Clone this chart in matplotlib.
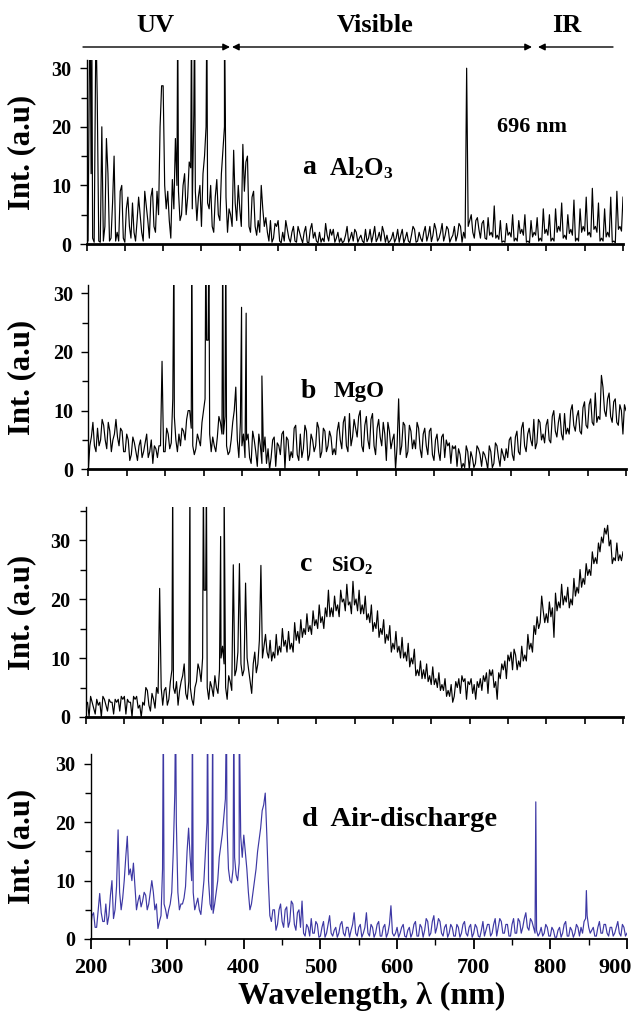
import numpy as np
import matplotlib
matplotlib.use("Agg")
import matplotlib.pyplot as plt
from matplotlib.ticker import MultipleLocator

plt.rcParams["font.family"] = ["Liberation Serif", "DejaVu Serif"]
plt.rcParams["font.weight"] = "bold"
plt.rcParams["mathtext.default"] = "regular"

# sampling grids of the spectra (nm): even points 200,204,... and odd points 202,206,...
wl = np.arange(200, 904, 4)
wl_mid = np.arange(202, 900, 4)

# Al2O3 spectrum
al2o3_int = [
    11, 34, 1, 33, 0.5, 20, 3, 12, 1, 15,
    2, 9, 1, 6, 3, 7, 0.5, 8, 2, 9,
    4, 8, 3, 9, 20, 27, 6, 4, 11, 18,
    9, 5, 12, 8, 13, 22, 4, 10, 12, 20,
    6, 3, 8, 5, 12, 20, 2, 5, 16, 4,
    6, 17, 14, 3, 8, 3, 4, 10, 3, 2,
    4, 1, 3, 0.5, 2, 4, 1, 2, 0.5, 3,
    1, 2, 0.3, 2.5, 1, 0.5, 2, 1, 3.5, 0.5,
    1.5, 0.3, 2, 1, 0.5, 3, 1, 0.5, 2, 1,
    0.5, 2.5, 1, 0.3, 3, 1, 0.5, 2, 1.5, 0.5,
    2, 1, 0.3, 2.5, 1, 0.5, 1.5, 2.5, 0.5, 1,
    2, 0.5, 3, 1.5, 2.5, 1, 3.5, 1.5, 2.5, 1,
    3, 1.5, 3, 2, 30, 4, 2, 4, 2.5, 3.5,
    1, 4.5, 2, 6.5, 1.5, 4, 0.5, 3.5, 2, 5,
    1, 4, 2.5, 5, 0.5, 4, 2, 4.5, 1, 6,
    2.5, 5, 1, 6, 3, 7, 1.5, 5, 2.5, 7.5,
    1, 6, 3, 8, 2, 9.5, 3, 7, 1, 6,
    2, 8, 0.5, 9, 3, 8,
]
al2o3_mid = [
    0.5, 12, 0.3, 25, 0.3, 0.5, 18, 0.5, 7, 0.5,
    0.5, 10, 0.3, 8, 1, 2, 4, 5, 0.5, 6.5,
    1, 9.5, 2, 5, 27, 10, 9, 1, 6, 10,
    4, 10, 5, 14, 6, 9, 8, 3, 15, 7,
    10, 2, 11, 4, 16, 8, 6, 3, 7, 10,
    3, 9, 15, 2, 9, 1.5, 2, 6, 4.5, 0.5,
    0.3, 3.5, 4, 0.2, 0.5, 2.5, 0.3, 3, 0.3, 2,
    0.2, 3, 0.2, 3.5, 2, 0.2, 0.3, 0.4, 1.5, 2.5,
    2.5, 1, 0.3, 0.2, 1.5, 0.3, 2, 2.5, 0.3, 1.5,
    0.2, 0.4, 2.5, 1.5, 0.4, 2, 3, 0.3, 0.2, 1,
    0.3, 2.5, 1.5, 0.2, 2, 0.2, 3, 0.3, 2, 0.4,
    3, 1.5, 0.4, 3.5, 0.5, 2, 0.5, 3, 0.3, 1.5,
    0.5, 3.5, 0.3, 1, 3, 5, 1, 4.5, 1, 4,
    0.8, 1.5, 1.2, 1, 0.8, 0.3, 0.3, 1.5, 1.2, 0.5,
    0.5, 1.8, 1.5, 0.3, 0.2, 1.2, 1.5, 0.5, 0.5, 1.8,
    1.5, 0.5, 0.5, 2, 2.2, 1, 0.8, 1.8, 1.5, 0.5,
    0.5, 2, 2.2, 1.5, 1.2, 2.5, 2, 0.5, 0.5, 1.2,
    1.2, 0.3, 0.2, 2.5, 2.2,
]
al2o3_line_wl = [205, 207, 213, 319, 337, 341, 357, 380]
al2o3_line_int = [35, 35, 33, 40, 40, 40, 40, 40]

# MgO spectrum
mgo_int = [
    0, 5.5, 4, 7, 5, 7.5, 3.5, 6.5, 5, 8.5,
    4, 6.5, 3, 5, 2.5, 4.5, 1.5, 5, 3, 6,
    3, 1, 3.5, 4, 18.4, 3, 6, 4.5, 9, 3,
    4, 6.5, 8.5, 10, 4, 3.5, 5, 8, 12, 22,
    3, 4, 5.5, 8, 6, 4, 3, 8, 14, 2,
    4, 2, 6, 1, 5, 0.5, 4, 3, 1, 0,
    5, 0.5, 4, 6, 0, 5, 3, 7, 2.5, 6,
    3.5, 6.5, 2.5, 5, 4, 7, 3, 6.5, 4, 5.5,
    3.5, 6.5, 5, 8, 4, 9.5, 5.5, 7, 9, 4,
    7.5, 5, 8.5, 4, 7, 5.5, 8, 1.5, 6.5, 5,
    0, 12, 4, 7.5, 3, 6.5, 5, 8, 3.5, 6,
    4, 6.5, 2.5, 5, 3, 5.5, 2, 4, 1, 3.5,
    0.5, 2.5, 1, 4, 0, 2, 1, 3.5, 0.5, 2.5,
    0, 3, 1, 4, 0.5, 2.5, 3.5, 5, 2.5, 5.5,
    3, 7, 4, 6, 5, 8.5, 4.5, 8, 6, 7.5,
    5, 9, 6.5, 8, 6, 9.5, 7, 10, 7.5, 9,
    6.5, 10.5, 7.5, 11, 8, 13, 9, 16, 10, 12,
    9, 11.5, 8, 11, 6, 10,
]
mgo_mid = [
    4, 8, 3, 4, 8.5, 5, 8, 3, 6, 5.5,
    7, 3, 6, 1.5, 5.5, 3, 4, 2, 4.5, 2,
    5, 4, 2, 4, 3, 7, 3.5, 12, 5, 6,
    7, 5, 10, 7, 2.5, 6, 4, 10, 22, 6,
    5.5, 3, 9, 6, 9, 2.5, 5, 10, 5, 8,
    6, 5, 2, 6.5, 3, 6, 1, 5.5, 3.5, 2,
    5.5, 4.5, 2.5, 6.5, 5.5, 1.5, 2, 7.5, 1.5, 2,
    7.5, 1.5, 6, 3, 8, 2, 7, 3, 6.5, 2.5,
    2.5, 8, 3.5, 9, 3, 4, 8.5, 5.5, 10, 3,
    9, 3.5, 9.5, 2.5, 8.5, 4, 6, 8, 3.5, 6,
    4, 2.5, 8, 2, 7.5, 3.5, 3.5, 7, 2, 7,
    2.5, 7, 1.5, 6, 1.5, 6, 5, 4.5, 4, 4,
    3.5, 0.2, 0.3, 3, 3, 0.3, 4, 2.5, 3, 1.5,
    4, 0.3, 4.5, 2, 3.5, 1.5, 2, 5.5, 1.5, 6.5,
    2.5, 8, 3, 7, 4, 3.5, 8.5, 5, 4.5, 8.5,
    4.5, 10, 5.5, 9.5, 5, 6, 6, 11, 6.5, 10,
    6, 11.5, 7, 12, 7.5, 8, 8.5, 14, 9, 13,
    8, 12, 7.5, 10, 11,
]
mgo_line_wl = [311.5, 334.7, 353, 357, 375, 379, 399.5, 405.5, 426]
mgo_line_int = [40, 40, 40, 40, 40, 40, 27.6, 26.6, 15.9]

# SiO2 spectrum
sio2_int = [
    2, 0, 2.5, 0.5, 2, 0, 3, 1, 2.5, 0.5,
    2.5, 1, 3, 0.5, 2.5, 0, 3, 1.5, 0, 2,
    4.5, 1, 3, 5, 21.8, 2, 5, 3, 8, 4,
    2, 6, 9, 3, 5, 2, 6, 8, 10, 21.5,
    3, 5, 7, 4, 10, 9, 3, 6, 25.8, 8,
    26, 7, 22.7, 8, 4, 11, 9, 25.7, 12, 11,
    13, 11, 14, 12, 15, 13, 14.5, 12.5, 16, 14.5,
    16.5, 15, 17.5, 15.5, 18, 16.5, 19, 17, 18.5, 21.5,
    18.5, 20.5, 19, 21.5, 20, 22.5, 19.5, 23, 20, 21.5,
    19, 20.5, 17.5, 19, 16, 18, 15, 16.5, 14, 15.5,
    12.5, 14.5, 12, 13.5, 11, 12.5, 10, 11.5, 8, 9.5,
    8, 9, 7, 8.5, 6.5, 7.5, 5.5, 6.5, 4.5, 5.5,
    3.5, 5, 4, 6, 3, 5.5, 4, 3, 5, 4.5,
    6, 4, 7, 5, 3, 6.5, 8, 6.5, 9.5, 8,
    10.5, 9.5, 12, 10.5, 14, 12.5, 15.5, 17, 16, 18,
    17.5, 19.5, 18.5, 21, 19.5, 22.5, 20.5, 22, 20, 23.5,
    22, 25, 23.5, 26, 25, 28, 27, 29.5, 30.5, 32,
    32.5, 30, 27, 29.5, 27.5, 28,
]
sio2_mid = [
    2.5, 3.5, 1.5, 3, 2.5, 3.5, 2, 3, 2.5, 3,
    3, 3.5, 3.5, 3, 2.5, 3.5, 3.5, 2, 2.5, 5,
    2, 4, 1.5, 4, 5, 4.5, 2, 6, 5, 6,
    4.5, 7, 4, 6, 3, 5, 9, 6, 21.5, 5,
    6, 3.5, 5, 8, 12, 5, 7, 4.5, 7, 11,
    9, 8, 10, 6, 9, 7.5, 13, 10, 14, 10,
    9.5, 10, 10.5, 11, 12, 11, 11.5, 11, 13, 12.5,
    13.5, 14, 14.5, 14, 15.5, 15, 16, 15, 17, 17,
    17, 18, 17, 19.5, 18, 19, 17.5, 19, 18, 17.5,
    17.5, 16.5, 16, 14.5, 15, 13.5, 14, 12.5, 13, 11,
    11.5, 11, 10, 10, 9.5, 8.5, 9, 7, 7, 6.5,
    6.5, 6, 5.5, 5.5, 5, 4.5, 4.5, 3.5, 3.5, 2.5,
    6, 6.5, 7, 6.5, 6, 6.5, 5.5, 6, 6.5, 7,
    7.5, 8, 8, 6, 7.5, 9, 9.5, 10.5, 11, 11.5,
    8, 8.5, 9.5, 9.5, 11.5, 11, 14, 15, 20.5, 16,
    16, 17, 13.5, 18, 18.5, 19, 19.5, 18.5, 19, 20.5,
    21, 22, 22.5, 24, 24, 26, 26, 28, 29.5, 31,
    29, 26, 26.5, 26.5, 26.5,
]
sio2_line_wl = [313, 335.5, 353, 357, 375.5, 380]
sio2_line_int = [40, 40, 40, 40, 30.6, 40]

# air discharge spectrum
air_int = [
    1.8, 4.5, 2, 7.8, 3, 6, 4, 10, 5, 18.7,
    5, 10, 17.6, 12, 13, 5, 7.5, 6.5, 7.5, 6,
    10, 5, 1.8, 4, 6, 3.5, 6, 15, 20, 5,
    6, 9, 19, 10, 5, 7, 4.2, 10, 20, 6,
    4.4, 8, 14, 18, 24, 12, 9.6, 14, 10, 17.6,
    17.8, 12, 5, 8, 12, 17, 22, 25, 10, 3,
    5, 2.5, 6, 2, 5.5, 3, 6, 1.5, 5, 6.5,
    0.5, 2, 3.5, 1, 2.5, 0.5, 3, 1, 4, 0.5,
    2, 1, 3, 0.5, 2, 1.5, 4.5, 0.5, 2.5, 1,
    4.5, 0.5, 2, 1, 3, 0.5, 2.5, 1, 5.7, 0.5,
    2, 1, 2.5, 0.3, 2, 1, 3, 0.5, 2, 1.5,
    3, 1, 4, 2, 3, 0.5, 2.5, 1, 2, 0.5,
    2, 1, 3, 0.5, 2.5, 1, 2, 0.3, 3, 1.5,
    2.5, 1, 3.5, 2, 3, 1, 2.5, 0.5, 3.5, 1,
    3, 2, 4.5, 1.5, 3, 1, 0.5, 2, 1, 2,
    0.5, 1.5, 0.3, 2, 1, 3, 0.5, 1.5, 1, 2,
    2, 3, 4, 1, 2, 0.5, 3, 1, 2.5, 0.5,
    2, 1, 3, 0.5, 2, 1,
]
air_mid = [
    4, 2, 5, 4.5, 3, 2.5, 7.5, 3.5, 9, 8,
    7, 14, 11, 10, 9, 6.5, 5.5, 8, 5, 8,
    8, 6, 3, 12, 5, 5, 8, 25, 8, 6,
    7, 15, 14, 8, 6, 5, 7, 15, 10, 5,
    6, 10, 16, 21, 20, 10, 12, 11, 13, 14,
    15, 8, 6, 10, 15, 19, 23, 18, 4, 5,
    1.5, 5, 3, 5, 2, 6.5, 2.5, 4.5, 2, 1,
    2.5, 0.5, 1, 3, 0.3, 2, 0.3, 2.5, 1, 1.5,
    0.3, 2.5, 1, 2, 0.3, 2.5, 1, 2, 0.3, 2,
    1, 2.5, 0.3, 2.5, 0.5, 2, 0.3, 2.5, 1, 1,
    0.3, 2, 0.5, 1.5, 0.3, 2.5, 0.5, 2.5, 0.3, 3.5,
    0.5, 3, 1, 3.5, 1, 2, 0.3, 2.5, 0.5, 2.5,
    0.3, 2.5, 1, 2, 0.3, 2.5, 0.5, 1.5, 0.5, 2.5,
    0.5, 2.5, 0.5, 3.5, 1, 2.5, 0.5, 2.5, 1, 3.5,
    1, 3.5, 2, 3.5, 2, 1.5, 1, 0.5, 2.5, 0.5,
    2, 0.3, 1.5, 0.3, 2.5, 0.5, 2, 0.3, 2.5, 0.5,
    1, 3.5, 2, 1.5, 0.5, 2, 1, 2.5, 1, 2,
    0.5, 2, 1, 2.5, 0.5,
]
air_line_wl = [295, 311, 333, 352.7, 359.5, 377.4, 387, 394, 781, 847]
air_line_int = [40, 40, 40, 40, 40, 40, 40, 40, 23.5, 8.3]

xtick_values = [200, 300, 400, 500, 600, 700, 800, 900]


def merge(base, mid, line_wl, line_int):
    assert len(base) == len(wl) and len(mid) == len(wl_mid)
    x = np.concatenate([wl, wl_mid, line_wl])
    y = np.concatenate([base, mid, line_int])
    order = np.argsort(x, kind="stable")
    return x[order], y[order]


W, H = 636, 1011
fig = plt.figure(figsize=(W / 100, H / 100), dpi=100)


def px_axes(left, bottom, right, top):
    return fig.add_axes([left / W, 1 - bottom / H, (right - left) / W, (bottom - top) / H])


panels = [
    (px_axes(86.5, 244, 623, 60), al2o3_int, al2o3_mid, al2o3_line_wl, al2o3_line_int, 31.4, "black", 2.0),
    (px_axes(88.3, 469.3, 626, 285), mgo_int, mgo_mid, mgo_line_wl, mgo_line_int, 31.4, "black", 2.0),
    (px_axes(86, 717, 623, 507), sio2_int, sio2_mid, sio2_line_wl, sio2_line_int, 35.6, "black", 2.0),
    (px_axes(90.5, 939, 627, 754), air_int, air_mid, air_line_wl, air_line_int, 31.7, "#3d38a4", 1.3),
]

for i, (ax, base, mid, lwl, lint, ytop, col, blw) in enumerate(panels):
    x, y = merge(base, mid, lwl, lint)
    ax.plot(x, y, color=col, lw=0.85)
    ax.set_xlim(200, 900)
    ax.set_ylim(0, ytop)
    for s in ["top", "right"]:
        ax.spines[s].set_visible(False)
    ax.spines["left"].set_linewidth(1.0)
    ax.spines["bottom"].set_linewidth(blw)
    ax.yaxis.set_major_locator(MultipleLocator(10))
    ax.yaxis.set_minor_locator(MultipleLocator(5))
    ax.xaxis.set_major_locator(MultipleLocator(100))
    ax.xaxis.set_minor_locator(MultipleLocator(50))
    ax.tick_params(axis="y", which="major", length=5, width=1, labelsize=14.5, pad=6)
    ax.tick_params(axis="y", which="minor", length=4, width=1)
    ax.tick_params(axis="x", labelbottom=False)
    pos = ax.get_position()
    fig.text(22 / W, pos.y0 + pos.height / 2, "Int. (a.u)", fontsize=22, rotation=90,
             ha="center", va="center")
    if i < 3:
        ax.tick_params(axis="x", which="both", length=5, width=1.2)
    else:
        ax.tick_params(axis="x", which="major", length=7, width=1.3)
        ax.tick_params(axis="x", which="minor", length=4, width=1)
        for t in xtick_values:
            xt = 885 if t == 900 else t
            ax.text(xt, -0.157, str(t), fontsize=16, ha="center", va="center",
                    transform=ax.get_xaxis_transform())

fig.text(372 / W, 1 - 996 / H, "Wavelength, λ (nm)", fontsize=23, ha="center", va="center")

ax_a, ax_b, ax_c, ax_d = [p[0] for p in panels]
ax_a.text(481, 13, "a", fontsize=20, va="center")
ax_a.text(517, 13, "Al$_2$O$_3$", fontsize=18, va="center")
ax_a.text(736, 19.9, "696 nm", fontsize=16, va="center")
ax_b.text(476, 13.2, "b", fontsize=20, va="center")
ax_b.text(519, 13.2, "MgO", fontsize=16.5, va="center")
ax_c.text(479, 25.8, "c", fontsize=20, va="center")
ax_c.text(520, 25.8, "SiO$_2$", fontsize=15, va="center")
ax_d.text(476, 20.4, "d  Air-discharge", fontsize=20.5, va="center")

# spectral regions on top
ay = 1 - 47 / H
arrow = dict(arrowstyle="-|>", color="black", lw=1, mutation_scale=10, shrinkA=0, shrinkB=0)
fig.add_artist(plt.Annotation("", xy=(230 / W, ay), xytext=(83 / W, ay), xycoords="figure fraction",
                              textcoords="figure fraction", arrowprops=arrow))
fig.add_artist(plt.Annotation("", xy=(532 / W, ay), xytext=(232 / W, ay), xycoords="figure fraction",
                              textcoords="figure fraction",
                              arrowprops=dict(arrow, arrowstyle="<|-|>")))
fig.add_artist(plt.Annotation("", xy=(538 / W, ay), xytext=(613 / W, ay), xycoords="figure fraction",
                              textcoords="figure fraction", arrowprops=arrow))
ty = 1 - 25 / H
fig.text(155 / W, ty, "UV", fontsize=19, ha="center", va="center")
fig.text(375 / W, ty, "Visible", fontsize=19, ha="center", va="center")
fig.text(567 / W, ty, "IR", fontsize=19, ha="center", va="center")

fig.savefig("out.png", dpi=100)
